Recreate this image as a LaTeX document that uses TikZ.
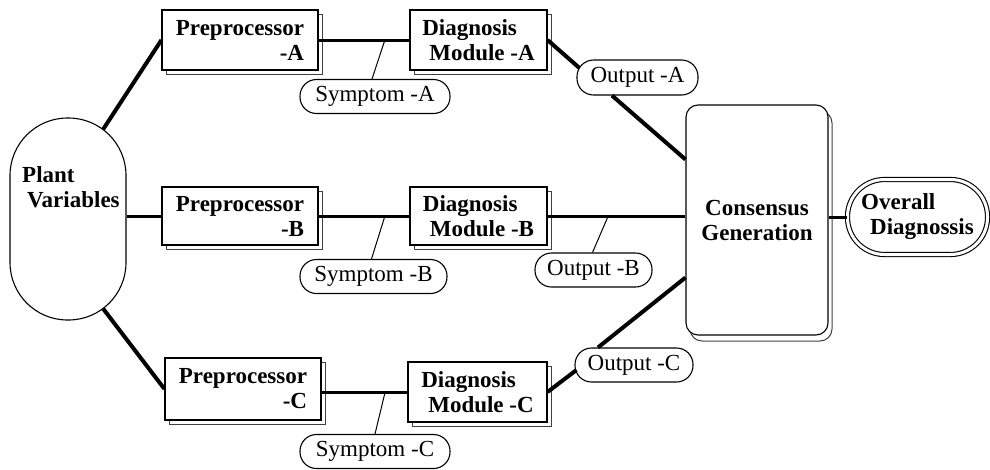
\documentclass[tikz,border=0pt]{standalone}
\usepackage{fontspec}
\setmainfont{Liberation Serif}
\usetikzlibrary{shadows,calc}
\begin{document}
\begin{tikzpicture}[x=1pt,y=-1pt,
  every node/.style={font=\fontsize{23}{25}\selectfont, inner sep=0pt},
  bfont/.style={font=\fontsize{23}{25}\selectfont\bfseries},
  box/.style={draw, line width=1.1pt, fill=white, minimum height=60pt, bfont,
    general shadow={shadow xshift=4pt, shadow yshift=-4pt, draw=black!75, fill=white, line width=1pt}},
  pill/.style={draw, line width=1.1pt, rounded corners=16.5pt, minimum height=34pt, fill=white},
  thickline/.style={line width=4pt},
  medline/.style={line width=3pt},
  thinline/.style={line width=1pt}]
\useasboundingbox (0,0) rectangle (990,469);

% plant variables
\node[draw, line width=1.1pt, rounded corners=57.5pt, minimum width=116pt, minimum height=202pt] (plant) at (68,219) {};
\node[bfont, align=left, anchor=north west] (plantT) at (22,166) {Plant\\\hspace*{5pt}Variables};
\coordinate (ptop) at ([yshift=-58pt]plant.north);
\coordinate (pbot) at ([yshift=58pt]plant.south);
\coordinate (pv1) at ([shift={(52.7:58pt)}]ptop);
\coordinate (pv3) at ([shift={(-52.7:58pt)}]pbot);

% preprocessors
\node[box, minimum width=156pt, minimum height=60pt, align=right] (preA) at (240,40) {Preprocessor\\-A};
\node[box, minimum width=156pt, minimum height=58pt, align=right] (preB) at (240,216) {Preprocessor\\-B};
\node[box, minimum width=156pt, minimum height=62pt, align=right] (preC) at (243,389) {Preprocessor\\-C};

% diagnosis modules
\node[box, minimum width=137pt, minimum height=60pt, align=left] (diagA) at (478.5,40) {Diagnosis\\\hspace*{7pt}Module -A};
\node[box, minimum width=137pt, minimum height=58pt, align=left] (diagB) at (478.5,216) {Diagnosis\\\hspace*{7pt}Module -B};
\node[box, minimum width=139pt, minimum height=60pt, align=left] (diagC) at (477.5,392) {Diagnosis\\\hspace*{7pt}Module -C};

% symptoms
\node[pill, minimum width=150pt] (symA) at (375,96.5) {Symptom -A};
\node[pill, minimum width=147pt] (symB) at (373.5,276.5) {Symptom -B};
\node[pill, minimum width=150pt] (symC) at (375,451.5) {Symptom -C};

% outputs
\node[pill, minimum width=121pt, minimum height=35pt] (outA) at (637.5,77.5) {Output -A};
\node[pill, minimum width=117pt] (outB) at (593.5,270) {Output -B};
\node[pill, minimum width=118pt] (outC) at (634,365) {Output -C};

% consensus
\node[draw, line width=1.1pt, rounded corners=12pt, fill=white, minimum width=142pt, minimum height=230pt, bfont, align=center,
  general shadow={shadow xshift=4pt, shadow yshift=-6pt, draw=black!75, fill=white, line width=1pt, rounded corners=12pt}] (cons) at (757,220) {Consensus\\Generation};

% overall
\node[draw, line width=1.1pt, double, double distance=3pt, rounded corners=37pt, minimum width=140pt, minimum height=75pt, bfont, align=left] (overall) at (917.5,217) {Overall\\\hspace*{9pt}Diagnossis};

% connectors
\draw[thickline] (pv1) -- (preA.west);
\draw[medline] (preB.west -| plant.east) -- (preB.west);
\draw[thickline] (pv3) -- (preC.west);

\draw[medline] (preA.east) -- (diagA.west);
\draw[medline] (preB.east) -- (diagB.west);
\draw[medline] (preC.east |- diagC.west) -- (diagC.west);

\coordinate (sa) at ($(preA.east)!0.73!(diagA.west)$);
\coordinate (sb) at ($(preB.east)!0.73!(diagB.west)$);
\coordinate (sc) at ($(preC.east |- diagC.west)!0.74!(diagC.west)$);
\draw[thinline] (sa) -- ([xshift=-3pt]symA.north);
\draw[thinline] (sb) -- ([xshift=-2pt]symB.north);
\draw[thinline] (sc) -- (symC.north);

\draw[thickline] (diagA.east) -- ([shift={(3pt,9.5pt)}]outA.west);
\draw[thickline] ([xshift=-25.5pt]outA.south) -- ([yshift=-55pt]cons.north west);

\draw[medline] (diagB.east) -- (diagB.east -| cons.west);
\coordinate (ob) at ($(diagB.east)!0.44!(diagB.east -| cons.west)$);
\draw[thinline] (ob) -- ([xshift=-1pt]outB.north);

\draw[thickline] (diagC.east) -- ([shift={(2pt,-5pt)}]outC.west);
\draw[thickline] ([xshift=-36pt]outC.north) -- ([yshift=58pt]cons.south west);

\draw[medline] (overall.west -| cons.east) -- (overall.west);
\end{tikzpicture}
\end{document}
